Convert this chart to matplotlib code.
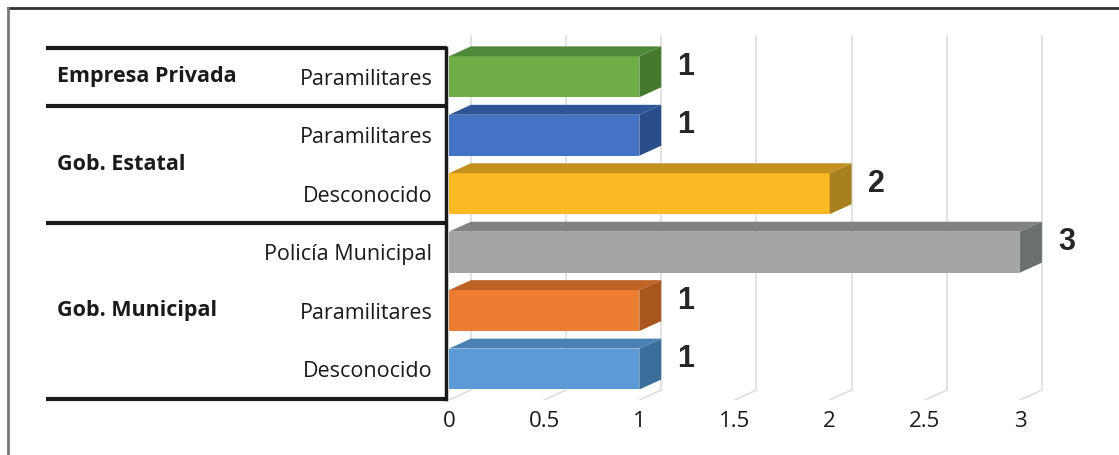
import matplotlib.pyplot as plt
from matplotlib.patches import Rectangle, Polygon
from matplotlib.lines import Line2D
import matplotlib.transforms as mtransforms

# rows listed bottom -> top
cats = ['Desconocido', 'Paramilitares', 'Policía Municipal',
        'Desconocido', 'Paramilitares', 'Paramilitares']
vals = [1, 1, 3, 2, 1, 1]
groups = ['Gob. Municipal', 'Gob. Estatal', 'Empresa Privada']
group_rows = [(0, 2), (3, 4), (5, 5)]
front = ['#5B9BD5', '#ED7D31', '#A5A5A5', '#FBBA24', '#4472C4', '#70AD47']
top = ['#4A80B4', '#BF6226', '#808283', '#C4901F', '#2F5597', '#4E8A3A']
side = ['#3C6E9C', '#A8561E', '#6C6F70', '#A8811E', '#294D8A', '#457A2E']
xticks = [0, 0.5, 1, 1.5, 2, 2.5, 3]
xticklabels = ['0', '0.5', '1', '1.5', '2', '2.5', '3']

fig = plt.figure(figsize=(11.19, 4.55), dpi=100)
ax = fig.add_axes([449/1119, 55/455, 651/1119, 370/455])
ax.set_xlim(0, 3.42)
ax.set_ylim(-0.53, 5.80)

h = 0.70     # front face height
dx = 0.115   # depth offset
dy = 0.17
floor = -0.53
gtop = 5.70

# gridlines (back wall + floor)
for x in xticks:
    ax.plot([x + dx, x + dx], [floor + dy, gtop], color='#DEDEDE', lw=1.2, zorder=1)
    ax.plot([x, x + dx], [floor, floor + dy], color='#DEDEDE', lw=1.2, zorder=1)

for i, v in enumerate(vals):
    y0, y1 = i - h/2, i + h/2
    ax.add_patch(Rectangle((0, y0), v, h, facecolor=front[i], edgecolor='none', zorder=3))
    ax.add_patch(Polygon([(0, y1), (v, y1), (v + dx, y1 + dy), (dx, y1 + dy)],
                         closed=True, facecolor=top[i], edgecolor='none', zorder=3))
    ax.add_patch(Polygon([(v, y0), (v + dx, y0 + dy), (v + dx, y1 + dy), (v, y1)],
                         closed=True, facecolor=side[i], edgecolor='none', zorder=3))
    ax.text(v + dx + 0.085, i + 0.17, str(v), ha='left', va='center',
            fontsize=22, fontweight='bold', color='#262626',
            family='Liberation Sans', zorder=4)

for s in ax.spines.values():
    s.set_visible(False)
ax.set_yticks(range(len(cats)))
ax.set_yticklabels(cats, fontsize=15.5, family='Open Sans', color='#1a1a1a')
ax.set_xticks(xticks)
ax.set_xticklabels(xticklabels, fontsize=16, family='Open Sans', color='#1a1a1a')
ax.tick_params(axis='y', length=0, pad=12)
ax.tick_params(axis='x', length=0, pad=8)

# table lines
tr = mtransforms.blended_transform_factory(fig.transFigure, ax.transData)
for yb in [5.5, 4.5, 2.5, -0.51]:
    ax.plot([46/1119, 447/1119], [yb, yb], color='#1a1a1a', lw=3,
            transform=tr, clip_on=False, solid_capstyle='butt')
ax.plot([446/1119, 446/1119], [5.5, -0.51], color='#1a1a1a', lw=2.5,
        transform=tr, clip_on=False)

for g, (a, b) in zip(groups, group_rows):
    ax.text(57/1119, (a + b) / 2, g, transform=tr, ha='left', va='center',
            fontsize=15.5, fontweight='bold', family='Open Sans', color='#1a1a1a')

# outer frame (top and left)
fig.add_artist(Line2D([8/1119, 1], [1 - 8/455, 1 - 8/455], color='#333333', lw=2))
fig.add_artist(Line2D([8/1119, 8/1119], [1 - 8/455, 0], color='#777777', lw=2))

fig.savefig('out.png', dpi=100)
